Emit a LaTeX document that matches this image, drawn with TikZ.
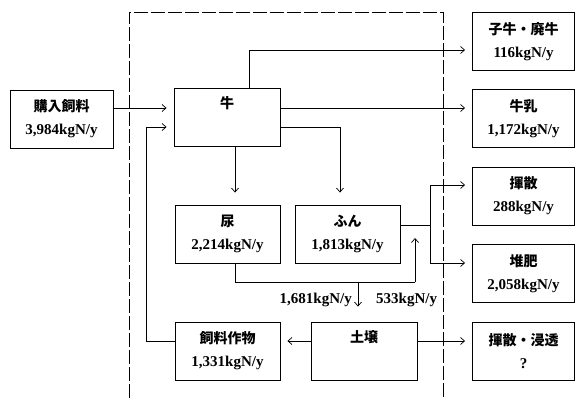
\documentclass[tikz,border=0pt]{standalone}
\usepackage{fontspec}
\setmainfont{Liberation Serif}
\newfontfamily\jpfont{Noto Sans CJK JP}
\usetikzlibrary{arrows.meta,calc}

\begin{document}
\begin{tikzpicture}[x=1pt,y=-1pt,>={Straight Barb[length=4pt,width=7pt]},
  box/.style={draw,line width=0.9pt,minimum width=103pt,minimum height=58pt,align=center,font=\fontsize{15}{23}\selectfont\bfseries},
  flow/.style={->,line width=0.7pt,shorten >=7pt},
  link/.style={line width=0.7pt},
  amount/.style={font=\fontsize{15}{16}\selectfont\bfseries,inner sep=0pt}]
\useasboundingbox (0,0) rectangle (575,398);
% farm boundary
\draw[dashed,dash pattern=on 14pt off 3pt,line width=0.7pt] (129,398) -- (129,12) -- (443,12) -- (443,398);
% boxes
\node[box] (buy) at (61.5,119) {{\jpfont\fontsize{14}{14}\selectfont 購入飼料}\\3,984kgN/y};
\node[box,minimum width=106pt] (cow) at (227,117.5) {{\jpfont\fontsize{14}{14}\selectfont 牛}\\\strut};
\node[box,minimum width=102pt] (calf) at (523.5,41.5) {{\jpfont\fontsize{14}{14}\selectfont 子牛・廃牛}\\116kgN/y};
\node[box,minimum width=102pt] (milk) at (523.5,118.5) {{\jpfont\fontsize{14}{14}\selectfont 牛乳}\\1,172kgN/y};
\node[box,minimum width=105pt] (urine) at (227.5,234) {{\jpfont\fontsize{14}{14}\selectfont 尿}\\2,214kgN/y};
\node[box,minimum width=105pt] (dung) at (347.5,234) {{\jpfont\fontsize{14}{14}\selectfont ふん}\\1,813kgN/y};
\node[box,minimum width=102pt] (vol) at (523.5,196) {{\jpfont\fontsize{14}{14}\selectfont 揮散}\\288kgN/y};
\node[box,minimum width=102pt] (comp) at (523.5,273.5) {{\jpfont\fontsize{14}{14}\selectfont 堆肥}\\2,058kgN/y};
\node[box,minimum width=105pt] (feed) at (227.5,351) {{\jpfont\fontsize{14}{14}\selectfont 飼料作物}\\1,331kgN/y};
\node[box,minimum width=106pt] (soil) at (364,351) {{\jpfont\fontsize{14}{14}\selectfont 土壌}\\\strut};
\node[box,minimum width=102pt] (loss) at (523.5,351) {{\jpfont\fontsize{14}{14}\selectfont 揮散・浸透}\\?};
% anchor points
\coordinate (cowinA) at ($(cow.west)+(0,-9.5)$);
\coordinate (cowinB) at ($(cow.west)+(0,9.5)$);
\coordinate (cowoutA) at ($(cow.east)+(0,-9.5)$);
\coordinate (cowoutB) at ($(cow.east)+(0,9.5)$);
\coordinate (cowtop) at ($(cow.north)+(22,0)$);
\coordinate (calfin) at ($(calf.west)+(0,8.5)$);
\coordinate (cowbot) at ($(cow.south)+(8,0)$);
\coordinate (urinein) at ($(urine.north)+(7.5,0)$);
\coordinate (dungin) at ($(dung.north)+(-7.5,0)$);
\coordinate (dungout) at ($(dung.east)+(0,-9)$);
\coordinate (split) at ($(dungout)+(30,0)$);
\coordinate (urineout) at ($(urine.south)+(7.5,0)$);
\coordinate (mixend) at (415,282);
\coordinate (mixtop) at (mixend |- dungout);
\coordinate (soilbranch) at (358,282);
\coordinate (soilout) at ($(soil.west)+(0,-10)$);
\coordinate (soilright) at ($(soil.east)+(0,-10)$);
\coordinate (feedout) at ($(feed.west)+(0,-10)$);
\coordinate (loopx) at (146,0);
% flows
\draw[flow] (buy.east |- cowinA) -- (cowinA);
\draw[flow] (cowtop) |- (calfin);
\draw[flow] (cowoutA) -- (milk.west |- cowoutA);
\draw[flow,shorten >=12pt] (cowoutB) -| (dungin);
\draw[flow,shorten >=12pt] (cowbot) -- (urinein);
\draw[link] (dungout) -- (split);
\draw[flow] (split) |- ($(vol.west)+(0,-11)$);
\draw[flow] (split) |- ($(comp.west)+(0,-10.5)$);
\draw[link] (urineout) |- (mixend);
\draw[flow,shorten >=13pt] (mixend) -- (mixtop);
\draw[flow,shorten >=15pt] (soilbranch) -- (soilbranch |- soil.north);
\node[amount,anchor=east] (toSoil) at ($(soilbranch)+(-6,18)$) {1,681kgN/y};
\node[amount,anchor=west] (toDung) at (376,300) {533kgN/y};
\draw[flow] (soilout) -- (feed.east |- soilout);
\draw[flow] (feedout) -| (loopx |- cowinB) -- (cowinB);
\draw[flow] (soilright) -- (loss.west |- soilright);
\end{tikzpicture}
\end{document}
